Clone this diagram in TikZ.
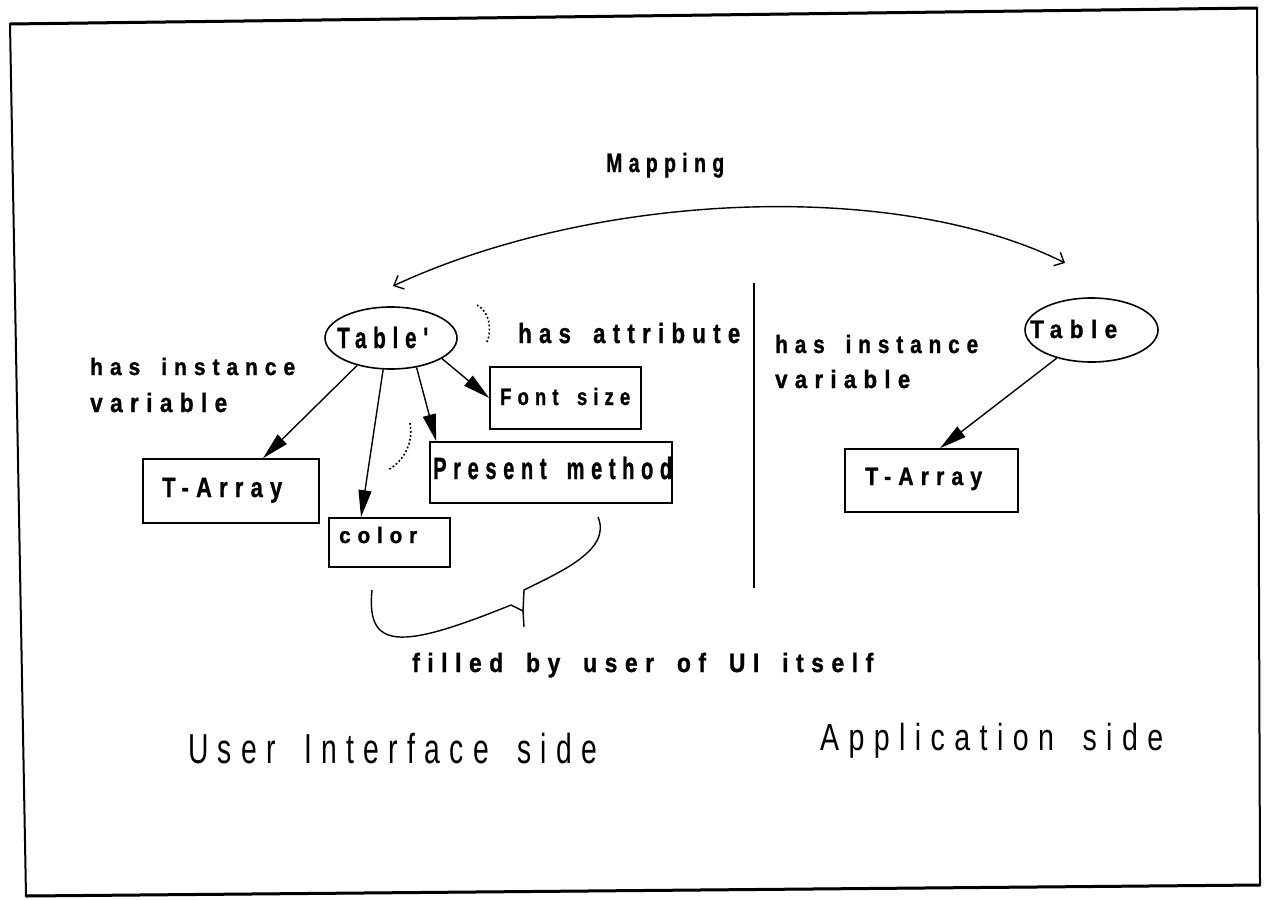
\documentclass[tikz,border=0pt]{standalone}
\usepackage{fontspec}
\usepackage{graphicx}
\usetikzlibrary{shapes.geometric,arrows.meta,calc}
\newfontfamily\spacedsans[LetterSpace=33,BoldFeatures={FakeBold=1.2}]{Liberation Sans}
% label text squeezed into a measured width and cap height, with wide word gaps
\newcommand\fitlabel[4]{\resizebox{#1pt}{#2pt}{\fontsize{10pt}{12pt}#3\spaceskip=10pt\relax\rule{0pt}{7.16pt}\smash{#4}}}
\newcommand\lblbold{\spacedsans\bfseries}
\newcommand\lblreg{\spacedsans}
\tikzset{
  box/.style={draw, rectangle, line width=1.6pt, inner sep=0pt},
  oval/.style={draw, ellipse, line width=1.6pt, inner sep=0pt},
  lbl/.style={inner sep=0pt, anchor=base west},
  link/.style={line width=1.4pt, -{Triangle[length=27pt,width=13pt]}},
  dots/.style={line width=1.6pt, dash pattern=on 1.8pt off 2.2pt},
  mapline/.style={line width=1.4pt, {Straight Barb[length=8pt,width=15pt]}-{Straight Barb[length=8pt,width=15pt]}},
  thin/.style={line width=1.4pt},
}
\begin{document}
\begin{tikzpicture}[x=1pt,y=-1pt]
\useasboundingbox (0,0) rectangle (1273,899);
% outer frame
\draw[line width=2pt] (10,24) -- (1257,8) -- (1260,885) -- (26,896) -- cycle;
\draw[line width=3pt] (10,24) -- (1257,8);
\draw[line width=3pt] (1260,885) -- (26,896);

% user interface side
\node[oval, minimum width=132pt, minimum height=62pt] (tp) at (391,338) {};
\node[box, minimum width=176pt, minimum height=64pt] (tal) at (231,491) {};
\node[box, minimum width=151pt, minimum height=62pt] (fs) at (565.5,398) {};
\node[box, minimum width=242pt, minimum height=61pt] (pm) at (551,472.5) {};
\node[box, minimum width=121pt, minimum height=49pt] (col) at (389.5,542.5) {};

% application side
\node[oval, minimum width=133pt, minimum height=64pt] (tr) at (1091.5,330) {};
\node[box, minimum width=173pt, minimum height=63pt] (tar) at (931.5,480.5) {};

% labels
\node[lbl] (tpl) at (337,348) {\fitlabel{91}{21}{\lblbold}{Table'}};
\node[lbl] (trl) at (1030,338) {\fitlabel{87}{18}{\lblbold}{Table}};
\node[lbl] (tall) at (162,497) {\fitlabel{120}{20}{\lblbold}{T-Array}};
\node[lbl] (tarl) at (865,485) {\fitlabel{117}{18}{\lblbold}{T-Array}};
\node[lbl] (fsl) at (500,405) {\fitlabel{130}{17}{\lblbold}{Font size}};
\node[lbl] (pml) at (433,479) {\fitlabel{239}{22}{\lblbold}{Present method}};
\node[lbl] (coll) at (339,543) {\fitlabel{78}{16}{\lblbold}{color}};
\node[lbl] (mapl) at (606,172) {\fitlabel{118}{19}{\lblbold}{Mapping}};
\node[lbl] (hattr) at (518,343) {\fitlabel{222}{20}{\lblbold}{has attribute}};
\node[lbl] (hiL) at (90,375) {\fitlabel{205}{17}{\lblbold}{has instance}};
\node[lbl] (varL) at (90,412) {\fitlabel{137}{19}{\lblbold}{variable}};
\node[lbl] (hiR) at (775,353) {\fitlabel{203}{18}{\lblbold}{has instance}};
\node[lbl] (varR) at (775,388) {\fitlabel{135}{18}{\lblbold}{variable}};
\node[lbl] (fill) at (412,672) {\fitlabel{461}{19}{\lblbold}{filled by user of UI itself}};
\node[lbl] (uis) at (188,763) {\fitlabel{409}{30}{\lblreg}{User Interface side}};
\node[lbl] (aps) at (820,750) {\fitlabel{343}{27}{\lblreg}{Application side}};

% instance variable and attribute links
\draw[link] (tp.219) -- ([xshift=32pt]tal.north);
\draw[link] (tp.256) -- ([xshift=-28.5pt]col.north);
\draw[link] (tp.311) -- ([xshift=7pt]pm.north west);
\draw[link] (tp.338) -- (fs.west);
\draw[link] (tr.219) -- ([xshift=8.5pt]tar.north);

% mapping between the two sides
\coordinate (ml) at (393,286);
\coordinate (mr) at (1065,263);
\draw[mapline] (ml) .. controls (600,190) and (900,180) .. (mr);

% divider
\draw[line width=1.6pt] (754,283) -- (754,588);

% dotted arcs
\draw[dots] (477,305) .. controls (490,312) and (492,330) .. (487,342);
\draw[dots] (410,423) .. controls (414,445) and (402,462) .. (388,470);

% brace under color and present method
\coordinate (bj) at (523,611);
\draw[thin] (372,590) .. controls (366,650) and (400,650) .. (511,605) -- (bj) -- (524,627);
\draw[thin] (bj) -- (524,590) .. controls (560,572) and (612,550) .. (598,517);
\end{tikzpicture}
\end{document}
